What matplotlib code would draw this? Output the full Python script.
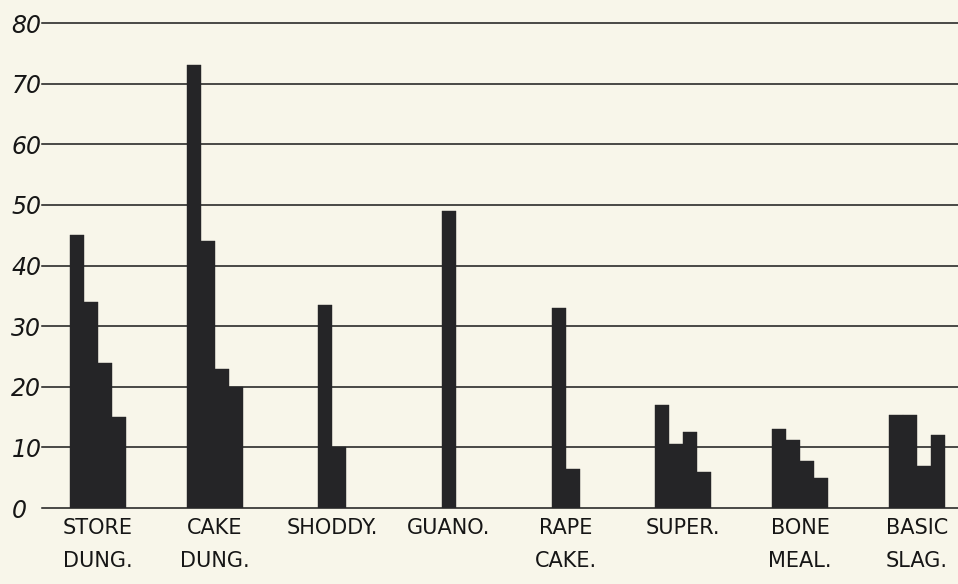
import numpy as np
import matplotlib.pyplot as plt

# fertiliser groups, left to right
categories = ['STORE\nDUNG.', 'CAKE\nDUNG.', 'SHODDY.', 'GUANO.',
              'RAPE\nCAKE.', 'SUPER.', 'BONE\nMEAL.', 'BASIC\nSLAG.']

# bar heights (successive years / crops)
store_dung = [45, 34, 24, 15]
cake_dung = [73, 44, 23, 20]
shoddy = [33.5, 10]
guano = [49]
rape_cake = [33, 6.5]
super_phos = [17, 10.5, 12.5, 6]
bone_meal = [13, 11.3, 7.8, 5]
basic_slag = [15.4, 15.4, 7, 12]

y_ticks = [0, 10, 20, 30, 40, 50, 60, 70, 80]

groups = [store_dung, cake_dung, shoddy, guano,
          rape_cake, super_phos, bone_meal, basic_slag]

paper = '#f8f6ea'
ink = '#252527'

fig = plt.figure(figsize=(9.58, 5.84), dpi=100, facecolor=paper)
ax = fig.add_axes([0.0438, 0.130, 0.9562, 0.8306])
ax.set_facecolor(paper)

w = 0.118
for i, vals in enumerate(groups):
    n = len(vals)
    xs = i + (np.arange(n) - (n - 1) / 2) * w
    ax.bar(xs, vals, width=w, color=ink, edgecolor=ink, linewidth=0.3, zorder=3)

ax.set_xlim(-0.479, 7.35)
ax.set_ylim(0, 80)

ax.set_yticks(y_ticks)
ax.set_yticklabels([str(t) for t in y_ticks], fontsize=17, fontstyle='italic',
                   color='#161616', ha='left')
ax.tick_params(axis='y', length=0, pad=22)

ax.set_xticks(range(len(categories)))
ax.set_xticklabels(categories, fontsize=15, color='#161616')
for lab in ax.get_xticklabels():
    lab.set_linespacing(1.8)
ax.tick_params(axis='x', length=0, pad=7)

ax.yaxis.grid(True, color='#1a1a1a', linewidth=1.1)
for gl in ax.get_ygridlines():
    gl.set_clip_on(False)
ax.set_axisbelow(True)
for s in ax.spines.values():
    s.set_visible(False)

fig.savefig('out.png', dpi=100, facecolor=paper)
